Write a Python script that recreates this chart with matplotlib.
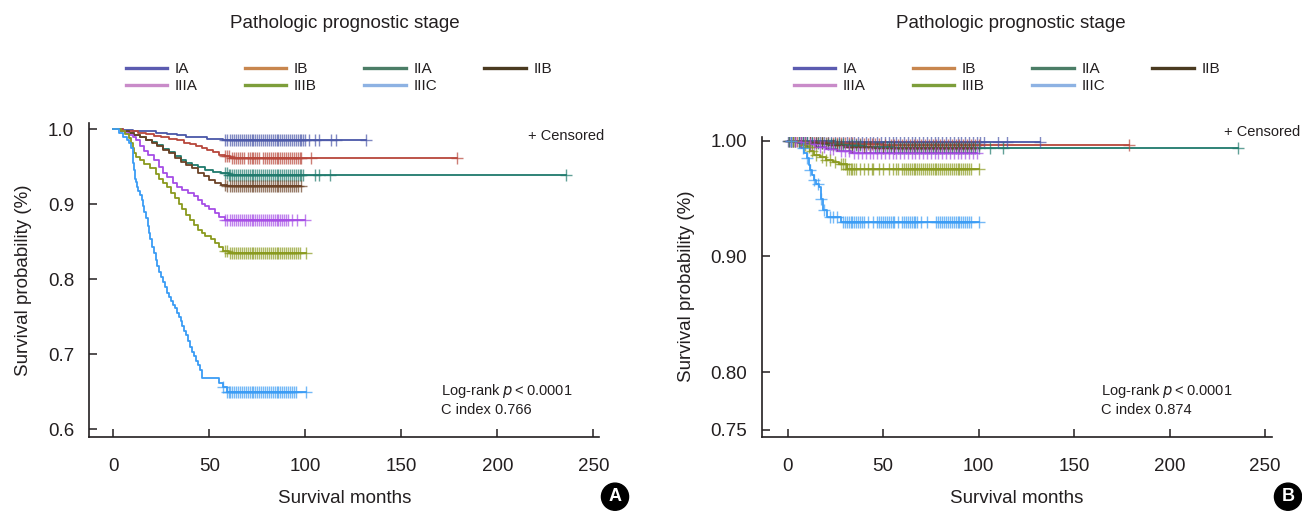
import numpy as np
import matplotlib
matplotlib.use("Agg")
import matplotlib.pyplot as plt
from matplotlib.lines import Line2D

plt.rcParams['font.family'] = ['Liberation Sans', 'DejaVu Sans']

stages = ['IA', 'IB', 'IIA', 'IIB', 'IIIA', 'IIIB', 'IIIC']
curve_colors = ['#4a57a8', '#b8473b', '#1f7a6c', '#6b4226', '#a64de6', '#8a9a1e', '#3a9cf5']
legend_colors = ['#5b5bb0', '#c8864e', '#4b7d66', '#4a3a20', '#c98bc9', '#7d9e3b', '#8db2e3']

# ---------------- Panel A (Kaplan-Meier step points) ----------------
a_ia_t = [0, 5, 10, 16, 22, 28, 33, 38, 44, 49, 57]
a_ia_s = [1, 0.999, 0.998, 0.997, 0.995, 0.993, 0.992, 0.990, 0.989, 0.987, 0.986]
a_ib_t = [0, 5, 9, 13, 17, 21, 25, 29, 33, 37, 40, 43, 46, 49, 52, 55, 58, 61]
a_ib_s = [1, 0.998, 0.997, 0.995, 0.993, 0.991, 0.989, 0.987, 0.985, 0.982, 0.980, 0.977, 0.975, 0.972, 0.969, 0.966, 0.964, 0.962]
a_iia_t = [0, 4, 8, 11, 14, 17, 20, 23, 26, 29, 32, 35, 38, 41, 44, 48, 52, 56, 60]
a_iia_s = [1, 0.998, 0.995, 0.992, 0.989, 0.986, 0.983, 0.979, 0.974, 0.969, 0.964, 0.959, 0.955, 0.952, 0.949, 0.946, 0.943, 0.941, 0.939]
a_iib_t = [0, 4, 8, 11, 14, 17, 20, 23, 26, 29, 32, 35, 38, 41, 44, 47, 50, 53, 56, 59]
a_iib_s = [1, 0.998, 0.995, 0.992, 0.989, 0.986, 0.982, 0.977, 0.972, 0.968, 0.962, 0.956, 0.952, 0.948, 0.942, 0.937, 0.932, 0.928, 0.926, 0.924]
a_iiia_t = [0, 4, 6, 8, 10, 12, 14, 16, 18, 21, 24, 26, 28, 31, 33, 36, 39, 42, 44, 46, 48, 50, 53, 55, 58]
a_iiia_s = [1, 0.998, 0.995, 0.992, 0.989, 0.985, 0.978, 0.971, 0.966, 0.959, 0.950, 0.942, 0.936, 0.928, 0.923, 0.919, 0.915, 0.911, 0.905, 0.900, 0.897, 0.894, 0.888, 0.883, 0.879]
a_iiib_t = [0, 4, 6, 8, 9, 10, 11, 12, 14, 16, 19, 22, 24, 26, 28, 30, 32, 34, 36, 38, 40, 42, 44, 46, 48, 51, 53, 55, 57, 60]
a_iiib_s = [1, 0.997, 0.993, 0.988, 0.982, 0.975, 0.968, 0.963, 0.959, 0.954, 0.948, 0.940, 0.933, 0.928, 0.923, 0.915, 0.908, 0.900, 0.893, 0.885, 0.879, 0.872, 0.866, 0.861, 0.857, 0.853, 0.848, 0.843, 0.838, 0.835]
a_iiic_t = [0, 3, 5, 7, 8, 9, 10, 10.5, 11, 11.5, 12, 12.5, 13, 14, 15, 15.5, 16, 17, 18, 18.5, 19, 20, 21, 22, 23, 24, 25, 26, 27, 28, 29, 30, 31, 32, 33, 34, 35, 36, 37, 38, 39, 40, 41, 42, 43, 44, 45, 46, 55, 57, 59]
a_iiic_s = [1, 0.995, 0.990, 0.986, 0.982, 0.975, 0.968, 0.955, 0.945, 0.934, 0.929, 0.923, 0.918, 0.912, 0.905, 0.897, 0.890, 0.881, 0.871, 0.861, 0.853, 0.843, 0.835, 0.826, 0.818, 0.810, 0.803, 0.796, 0.789, 0.781, 0.776, 0.771, 0.766, 0.761, 0.755, 0.749, 0.744, 0.738, 0.731, 0.726, 0.718, 0.710, 0.703, 0.697, 0.691, 0.685, 0.679, 0.668, 0.662, 0.656, 0.650]

# censoring times, panel A
a_ia_c = [58, 59, 61, 62, 63, 64, 65, 66, 67, 68, 69, 70, 71, 72, 73, 74, 75, 76, 77, 78, 79, 80, 81, 82, 83, 84, 85, 86, 87, 88, 89, 90, 91, 92, 93, 94, 95, 96, 97, 98, 99, 100, 102, 105, 107, 113.5, 116, 131.4]
a_ib_c = [58, 59, 60, 62, 63, 64, 65, 66, 67, 68, 70, 71, 72, 73, 74, 75, 76, 78, 79, 80, 81, 82, 83, 84, 85, 86, 87, 88, 89, 90, 91, 92, 93, 94, 95, 96, 97, 98, 103, 179]
a_iia_c = [58, 59, 60, 61, 62, 63, 64, 65, 66, 67, 68, 69, 70, 71, 72, 73, 74, 75, 76, 77, 78, 79, 80, 81, 82, 83, 84, 85, 86, 87, 88, 89, 90, 91, 92, 93, 94, 95, 96, 97, 98, 99, 105, 107, 113, 236]
a_iib_c = [58, 59, 61, 62, 63, 64, 65, 66, 67, 68, 69, 70, 71, 72, 73, 74, 75, 76, 77, 78, 79, 80, 81, 82, 83, 84, 85, 86, 87, 88, 89, 90, 91, 92, 93, 94, 95, 96, 97.5]
a_iiia_c = [58, 59, 61, 62, 63, 64, 65, 66, 67, 68, 69, 70, 71, 72, 73, 74, 75, 76, 77, 78, 79, 80, 81, 82, 83, 84, 85, 86, 87, 88, 89, 90, 91, 93, 95.5, 100]
a_iiib_c = [58, 59, 61, 62, 63, 64, 65, 66, 67, 68, 69, 70, 71, 72, 73, 74, 75, 76, 77, 78, 79, 80, 81, 82, 83, 84, 85, 86, 87, 88, 89, 90, 91, 92, 93, 94, 95, 96, 97, 100.5]
a_iiic_c = [57, 59, 60, 61, 62, 63, 64, 65, 66, 67, 68, 69, 70, 71, 72, 73, 74, 75, 76, 77, 78, 79, 80, 81, 82, 83, 84, 85, 86, 87, 88, 89, 90, 91, 92, 93, 94, 95, 100.5]

# ---------------- Panel B ----------------
b_ia_t = [0, 12, 25, 40]
b_ia_s = [1, 0.9995, 0.999, 0.9986]
b_ib_t = [0, 8, 20, 35, 50]
b_ib_s = [1, 0.999, 0.998, 0.997, 0.9963]
b_iia_t = [0, 5, 12, 20, 30, 40, 55]
b_iia_s = [1, 0.999, 0.998, 0.997, 0.996, 0.995, 0.994]
b_iib_t = [0, 6, 14, 22, 30, 45]
b_iib_s = [1, 0.999, 0.998, 0.9965, 0.995, 0.9935]
b_iiia_t = [0, 5, 10, 15, 20, 26, 33]
b_iiia_s = [1, 0.999, 0.997, 0.995, 0.993, 0.991, 0.989]
b_iiib_t = [0, 6, 8, 10, 12, 14, 17, 20, 24, 27, 31]
b_iiib_s = [1, 0.998, 0.996, 0.995, 0.991, 0.988, 0.986, 0.983, 0.982, 0.980, 0.976]
b_iiic_t = [0, 5.5, 7, 8.5, 10, 11, 12, 13, 14, 15, 16.5, 17.5, 18.5, 20.5, 28]
b_iiic_s = [1, 0.998, 0.994, 0.989, 0.985, 0.979, 0.975, 0.970, 0.966, 0.963, 0.960, 0.950, 0.940, 0.934, 0.9295]

b_ia_c = [0, 2, 4, 6, 8, 10, 13, 15, 17, 19, 21, 23, 25, 27, 29, 31, 33, 35, 37, 39, 41, 43, 45, 47, 49, 51, 53, 55, 57, 59, 61, 63, 65, 67, 69, 71, 73, 75, 77, 79, 81, 83, 85, 87, 89, 91, 93, 95, 97, 99, 101, 103, 110, 115, 132]
b_ib_c = [1, 3, 5, 7, 9, 12, 14, 16, 18, 21, 24, 26, 28, 30, 32, 34, 36, 38, 40, 42, 44, 46, 48, 51, 54, 56, 58, 60, 62, 64, 66, 68, 70, 72, 74, 76, 78, 80, 82, 84, 86, 88, 90, 92, 94, 96, 98, 100, 178.8]
b_iia_c = [1, 3, 6, 8, 10, 13, 16, 18, 21, 23, 25, 27, 29, 32, 34, 36, 38, 41, 43, 46, 48, 50, 52, 54, 56, 58, 60, 62, 64, 66, 68, 70, 72, 74, 76, 78, 80, 82, 84, 86, 88, 90, 92, 94, 96, 98, 100, 106, 113, 235.6]
b_iib_c = [2, 4, 7, 9, 12, 15, 18, 20, 24, 26, 28, 32, 34, 37, 40, 43, 47, 50, 53, 56, 59, 61, 63, 65, 67, 69, 71, 73, 75, 77, 79, 81, 83, 85, 87, 89, 91, 93, 95, 97]
b_iiia_c = [2, 4, 7, 9, 12, 14, 17, 19, 22, 24, 28, 30, 32, 35, 37, 39, 41, 43, 45, 47, 49, 51, 53, 55, 57, 59, 61, 63, 65, 67, 69, 71, 73, 75, 77, 79, 81, 83, 85, 87, 89, 91, 93, 95, 97, 99]
b_iiib_c = [3, 9, 11, 13, 15, 18, 20, 22, 25, 28, 29, 30, 31, 32, 33, 34, 35, 36, 38, 40, 42, 44, 45, 48, 50, 53, 55, 57, 58, 60, 61, 62, 63, 64, 65, 66, 67, 68, 69, 70, 71, 72, 73, 74, 75, 76, 77, 78, 79, 80, 81, 82, 83, 84, 85, 86, 87, 88, 89, 90, 91, 92, 93, 94, 95, 96, 100.3]
b_iiic_c = [2, 8, 10, 12, 14, 16, 17.5, 19, 22, 24, 26, 29, 30, 31, 32, 33, 34, 35, 36, 37, 38, 39, 40, 42, 45, 47, 48, 49, 50, 51, 52, 53, 54, 55, 56, 58, 60, 61, 62, 63, 64, 65, 66, 67, 68, 70, 73, 78, 79, 80, 81, 82, 83, 84, 85, 86, 87, 88, 89, 90, 91, 92, 93, 94, 95, 96, 100.3]

panel_a = [(a_ia_t, a_ia_s, a_ia_c), (a_ib_t, a_ib_s, a_ib_c), (a_iia_t, a_iia_s, a_iia_c),
           (a_iib_t, a_iib_s, a_iib_c), (a_iiia_t, a_iiia_s, a_iiia_c),
           (a_iiib_t, a_iiib_s, a_iiib_c), (a_iiic_t, a_iiic_s, a_iiic_c)]
panel_b = [(b_ia_t, b_ia_s, b_ia_c), (b_ib_t, b_ib_s, b_ib_c), (b_iia_t, b_iia_s, b_iia_c),
           (b_iib_t, b_iib_s, b_iib_c), (b_iiia_t, b_iiia_s, b_iiia_c),
           (b_iiib_t, b_iiib_s, b_iiib_c), (b_iiic_t, b_iiic_s, b_iiic_c)]

a_yticks = [0.6, 0.7, 0.8, 0.9, 1.0]
a_yticklabels = ['0.6', '0.7', '0.8', '0.9', '1.0']
b_yticks = [0.75, 0.80, 0.90, 1.00]
b_yticklabels = ['0.75', '0.80', '0.90', '1.00']
xticks = [0, 50, 100, 150, 200, 250]

TXT = '#231f20'
W, H = 1302, 511
fig = plt.figure(figsize=(W / 100, H / 100), dpi=100)


def draw_km(ax, data):
    for (t, s, c), col in zip(data, curve_colors):
        t = np.asarray(t, float)
        s = np.asarray(s, float)
        c = np.asarray(c, float)
        tend = c.max()
        tt = np.append(t, tend)
        ss = np.append(s, s[-1])
        ax.step(tt, ss, where='post', color=col, lw=1.3, zorder=3)
        idx = np.searchsorted(t, c, side='right') - 1
        ax.plot(c, s[idx], ls='none', marker='+', ms=8.5, mew=1.0, color=col, alpha=0.7, zorder=4)


def style_ax(ax, xlim, ylim, yt, ytl):
    ax.set_xlim(*xlim)
    ax.set_ylim(*ylim)
    ax.set_xticks(xticks)
    ax.set_xticklabels([str(v) for v in xticks])
    ax.set_yticks(yt)
    ax.set_yticklabels(ytl)
    for sp in ['top', 'right']:
        ax.spines[sp].set_visible(False)
    for sp in ['left', 'bottom']:
        ax.spines[sp].set_linewidth(1.2)
        ax.spines[sp].set_color(TXT)
    ax.tick_params(axis='both', direction='in', length=6, width=1.1, labelsize=13.5, color=TXT, labelcolor=TXT)
    ax.tick_params(axis='x', pad=15)
    ax.tick_params(axis='y', pad=11)
    ax.set_xlabel('Survival months', fontsize=13.5, labelpad=11, color=TXT)
    ax.set_ylabel('Survival probability (%)', fontsize=13.5, labelpad=11, color=TXT)


axA = fig.add_axes([89.3 / W, 1 - 436.7 / H, 510 / W, (436.7 - 123.3) / H])
draw_km(axA, panel_a)
style_ax(axA, (-12.5, 253.1), (0.5901, 1.0076), a_yticks, a_yticklabels)

axB = fig.add_axes([762.3 / W, 1 - 436.7 / H, 509.4 / W, (436.7 - 136.7) / H])
draw_km(axB, panel_b)
style_ax(axB, (-13.2, 253.5), (0.7442, 1.0035), b_yticks, b_yticklabels)

# annotations (figure pixel positions)
for rx, y, cidx, lx in ((604, 136, '0.766', 441), (1300, 132, '0.874', 1101)):
    fig.text(rx / W, 1 - y / H, '+ Censored', ha='right', va='center', fontsize=10.5, color=TXT)
    fig.text(lx / W, 1 - 391 / H, 'Log-rank $\\it{p}$\u2009<\u20090.0001', ha='left', va='center', fontsize=10.5, color=TXT)
    fig.text(lx / W, 1 - 410 / H, 'C index ' + cidx, ha='left', va='center', fontsize=10.5, color=TXT)

# titles + legends (row-wise order for 4 columns x 2 rows)
order = [0, 4, 1, 5, 2, 6, 3]
handles = [Line2D([], [], color=legend_colors[i], lw=2.4) for i in order]
labels = [stages[i] for i in order]
for cx, lx in ((345, 126), (1011, 794)):
    fig.text(cx / W, 1 - 24 / H, 'Pathologic prognostic stage', ha='center', va='center', fontsize=13.5, color=TXT)
    fig.legend(handles, labels, loc='center left', bbox_to_anchor=(lx / W, 1 - 77.5 / H), ncol=4,
               frameon=False, fontsize=11, handlelength=2.7, handletextpad=0.5, columnspacing=3.1,
               labelspacing=0.2, borderpad=0, borderaxespad=0, labelcolor=TXT)

for letter, cx in (('A', 615), ('B', 1288)):
    fig.text(cx / W, 1 - 496.7 / H, letter, ha='center', va='center', fontsize=13, fontweight='bold', color='white',
             bbox=dict(boxstyle='circle,pad=0.28', fc='black', ec='black'))

fig.savefig('out.png', dpi=100)
